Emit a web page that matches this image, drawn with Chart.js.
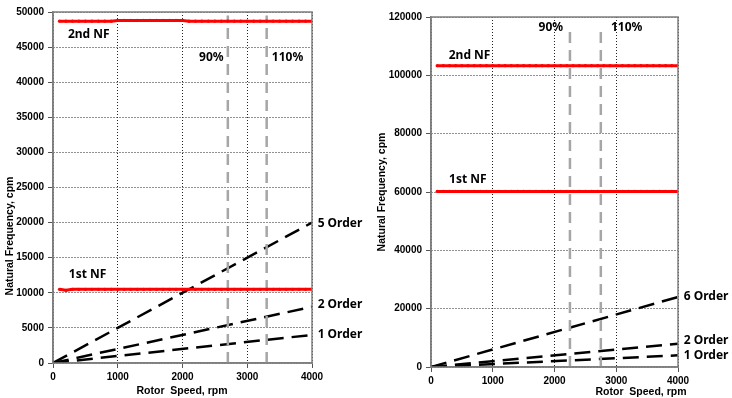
<!DOCTYPE html>
<html>
<head>
<meta charset="utf-8">
<script src="https://cdn.jsdelivr.net/npm/chart.js@4.4.1/dist/chart.umd.min.js"></script>
<style>
  html, body { margin: 0; padding: 0; background: #fff; }
  .wrap { position: absolute; top: 0; width: 366px; height: 398px; }
</style>
</head>
<body>
<div class="wrap" style="left:0"><canvas id="leftChart" width="366" height="398"></canvas></div>
<div class="wrap" style="left:366px"><canvas id="rightChart" width="366" height="398"></canvas></div>
<script>
// rotor speed points for the natural frequency curves (rpm)
const rpm = [100, 200, 300, 400, 500, 600, 700, 800, 900, 1000,
             1100, 1200, 1300, 1400, 1500, 1600, 1700, 1800, 1900, 2000,
             2100, 2200, 2300, 2400, 2500, 2600, 2700, 2800, 2900, 3000,
             3100, 3200, 3300, 3400, 3500, 3600, 3700, 3800, 3900, 4000];

// left chart natural frequencies (cpm)
const leftNF1 = [10500, 10350, 10500, 10500, 10500, 10500, 10500, 10500, 10500, 10500,
                 10500, 10500, 10500, 10500, 10500, 10500, 10500, 10500, 10500, 10500,
                 10500, 10500, 10500, 10500, 10500, 10500, 10500, 10500, 10500, 10500,
                 10500, 10500, 10500, 10500, 10500, 10500, 10500, 10500, 10500, 10500];
const leftNF2 = [48700, 48700, 48700, 48700, 48700, 48700, 48700, 48700, 48700, 48800,
                 48800, 48800, 48800, 48800, 48800, 48800, 48800, 48800, 48800, 48800,
                 48700, 48700, 48700, 48700, 48700, 48700, 48700, 48700, 48700, 48700,
                 48700, 48700, 48700, 48700, 48700, 48700, 48700, 48700, 48700, 48700];

// right chart natural frequencies (cpm)
const rightNF1 = [60200, 60200, 60200, 60200, 60200, 60200, 60200, 60200, 60200, 60200,
                  60200, 60200, 60200, 60200, 60200, 60200, 60200, 60200, 60200, 60200,
                  60200, 60200, 60200, 60200, 60200, 60200, 60200, 60200, 60200, 60200,
                  60200, 60200, 60200, 60200, 60200, 60200, 60200, 60200, 60200, 60200];
const rightNF2 = [103300, 103300, 103300, 103300, 103300, 103300, 103300, 103300, 103300, 103300,
                  103300, 103300, 103300, 103300, 103300, 103300, 103300, 103300, 103300, 103300,
                  103300, 103300, 103300, 103300, 103300, 103300, 103300, 103300, 103300, 103300,
                  103300, 103300, 103300, 103300, 103300, 103300, 103300, 103300, 103300, 103300];

// excitation order lines
const orderRpm = [0, 4000];
const order1 = [0, 4000];
const order2 = [0, 8000];
const order5 = [0, 20000];
const order6 = [0, 24000];

// operating speed limits (90% / 110%)
const leftLimits = [2700, 3300];
const leftLimitSpan = [0, 49500];
const rightLimits = [2250, 2750];
const rightLimitSpan = [0, 117000];

// axes
const speedTicks = [0, 1000, 2000, 3000, 4000];
const leftFreqMax = 50000, leftFreqStep = 5000;
const rightFreqMax = 120000, rightFreqStep = 20000;

const xTitle = 'Rotor  Speed, rpm';
const yTitle = 'Natural Frequency, cpm';

function pts(xs, ys) {
    return xs.map((x, i) => ({ x: x, y: ys[i] }));
}

function nfSet(ys) {
    return { data: pts(rpm, ys), borderColor: '#ff0000', borderWidth: 3, pointRadius: 1.6,
             pointBackgroundColor: '#ff0000', pointBorderWidth: 0, order: 1 };
}
function orderSet(ys) {
    return { data: pts(orderRpm, ys), borderColor: '#000', borderWidth: 2.5,
             borderDash: [16, 8], pointRadius: 0, order: 3 };
}
function limitSet(x, span) {
    return { data: pts([x, x], span), borderColor: '#a6a6a6', borderWidth: 2.5,
             borderDash: [11, 7], pointRadius: 0, order: 2 };
}

// draws frame, text marks and axis titles
const textMarks = {
    id: 'textMarks',
    afterDatasetsDraw(chart, args, opts) {
        const ctx = chart.ctx, a = chart.chartArea;
        const xs = chart.scales.x, ys = chart.scales.y;
        ctx.save();
        ctx.strokeStyle = '#7f7f7f';
        ctx.lineWidth = 1.5;
        ctx.strokeRect(a.left, a.top, a.right - a.left, a.bottom - a.top);

        ctx.fillStyle = '#000';
        ctx.font = 'bold 12px "Noto Sans"';
        ctx.textAlign = 'left';
        ctx.textBaseline = 'middle';
        opts.marks.forEach(m => {
            ctx.fillText(m.text, xs.getPixelForValue(m.x), ys.getPixelForValue(m.y));
        });

        ctx.font = 'bold 10.5px "Liberation Sans"';
        ctx.textAlign = 'center';
        ctx.fillText(xTitle, opts.xTitleAt[0], opts.xTitleAt[1]);
        ctx.translate(opts.yTitleAt[0], opts.yTitleAt[1]);
        ctx.rotate(-Math.PI / 2);
        ctx.fillText(yTitle, 0, 0);
        ctx.restore();
    }
};

function buildChart(id, cfg) {
    const area = cfg.area;
    const tickFont = { family: '"Liberation Sans"', size: 10, weight: 'bold' };
    const grid = { color: '#222', lineWidth: 1, tickLength: 5, tickColor: '#555', tickBorderDash: [] };
    const border = { color: '#7f7f7f', width: 1.5, dash: [1, 2] };
    return new Chart(document.getElementById(id), {
        type: 'line',
        data: { datasets: cfg.datasets },
        options: {
            responsive: false,
            animation: false,
            layout: { padding: { left: 0, top: area.top, right: 366 - area.right, bottom: 0 } },
            scales: {
                x: {
                    type: 'linear', min: 0, max: 4000,
                    afterBuildTicks: s => { s.ticks = speedTicks.map(v => ({ value: v })); },
                    afterFit: s => { s.height = 398 - area.bottom; },
                    ticks: { color: '#000', font: tickFont, padding: 3, maxRotation: 0,
                             callback: v => String(v) },
                    grid: grid,
                    border: border
                },
                y: {
                    type: 'linear', min: 0, max: cfg.yMax,
                    ticks: { stepSize: cfg.yStep, color: '#000', font: tickFont, padding: 4,
                             callback: v => String(v) },
                    afterFit: s => { s.width = area.left; },
                    grid: grid,
                    border: border
                }
            },
            plugins: {
                legend: { display: false },
                tooltip: { enabled: false },
                textMarks: { marks: cfg.marks, xTitleAt: cfg.xTitleAt, yTitleAt: cfg.yTitleAt }
            }
        },
        plugins: [textMarks]
    });
}

buildChart('leftChart', {
    area: { left: 53, right: 312, top: 12, bottom: 363 },
    yMax: leftFreqMax, yStep: leftFreqStep,
    datasets: [
        orderSet(order1), orderSet(order2), orderSet(order5),
        limitSet(leftLimits[0], leftLimitSpan), limitSet(leftLimits[1], leftLimitSpan),
        nfSet(leftNF1), nfSet(leftNF2)
    ],
    marks: [
        { text: '2nd NF', x: 230, y: 46830 },
        { text: '90%', x: 2255, y: 43460 },
        { text: '110%', x: 3380, y: 43460 },
        { text: '1st NF', x: 245, y: 12560 },
        { text: '5 Order', x: 4087, y: 19810 },
        { text: '2 Order', x: 4087, y: 8290 },
        { text: '1 Order', x: 4087, y: 4020 }
    ],
    xTitleAt: [182, 391],
    yTitleAt: [10, 236]
});

buildChart('rightChart', {
    area: { left: 65, right: 312, top: 17, bottom: 367 },
    yMax: rightFreqMax, yStep: rightFreqStep,
    datasets: [
        orderSet(order1), orderSet(order2), orderSet(order6),
        limitSet(rightLimits[0], rightLimitSpan), limitSet(rightLimits[1], rightLimitSpan),
        nfSet(rightNF1), nfSet(rightNF2)
    ],
    marks: [
        { text: '90%', x: 1742, y: 116470 },
        { text: '110%', x: 2914, y: 116470 },
        { text: '2nd NF', x: 287, y: 106870 },
        { text: '1st NF', x: 292, y: 64350 },
        { text: '6 Order', x: 4093, y: 24000 },
        { text: '2 Order', x: 4093, y: 9150 },
        { text: '1 Order', x: 4093, y: 4010 }
    ],
    xTitleAt: [275, 392],
    yTitleAt: [16, 192]
});
</script>
</body>
</html>
